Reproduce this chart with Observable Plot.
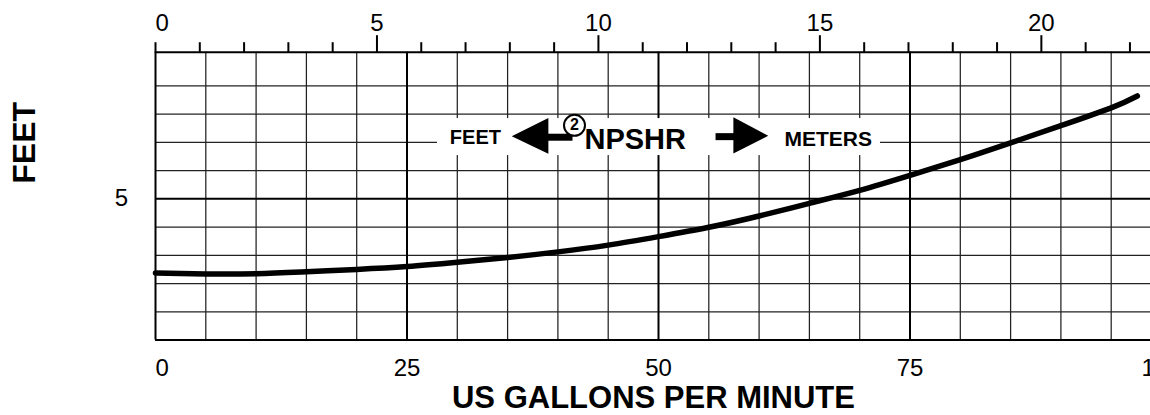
<!DOCTYPE html>
<html><head><meta charset="utf-8">
<script src="https://cdn.jsdelivr.net/npm/d3@7"></script>
<script src="https://cdn.jsdelivr.net/npm/@observablehq/plot@0.6"></script>
<style>
html,body{margin:0;padding:0;background:#fff;overflow:hidden}
#chart svg{display:block}
</style></head><body><div id="chart"></div>
<script>
// ---- data ----
const gpm       = [0, 5, 10, 15, 20, 25, 30, 35, 40, 45, 50, 55, 60, 65, 70, 75, 80, 85, 90, 95, 97.6];
const npshrFeet = [2.37, 2.34, 2.35, 2.42, 2.50, 2.60, 2.75, 2.92, 3.12, 3.36, 3.66, 3.99, 4.39, 4.84, 5.30, 5.83, 6.39, 6.98, 7.59, 8.22, 8.64];
const xTickLabels   = [0, 25, 50, 75, 100];        // US gallons per minute
const topTickLabels = [0, 5, 10, 15, 20];          // m³/h
const topMinorTicks = d3.range(1, 23).filter(v => v % 5 !== 0).concat([0]);
const yTickLabels   = [5];                          // feet
const xGrid = d3.range(5, 101, 5);
const yGrid = d3.range(1, 10);
const GPM_PER_M3H = 4.40287;
const Y_TOP = 10.19;

const curve = gpm.map((g, i) => ({g, f: npshrFeet[i]}));
const FONT = "'Liberation Sans', Arial, Helvetica, sans-serif";

const chart = Plot.plot({
  width: 1150, height: 415,
  marginLeft: 155, marginRight: 0, marginTop: 51.7, marginBottom: 75.5,
  x: {domain: [0, 100], range: [155, 1161], axis: null, label: null},
  y: {domain: [0, Y_TOP], range: [339.5, 51.7], axis: null, label: null},
  style: {fontFamily: FONT, background: "white", overflow: "hidden", color: "black"},
  marks: [
    // grid
    Plot.ruleX(xGrid.filter(d => d % 25 !== 0), {y1: 0, y2: Y_TOP, stroke: "#222", strokeWidth: 1.25}),
    Plot.ruleY(yGrid.filter(d => d % 5 !== 0), {x1: 0, x2: 101, stroke: "#222", strokeWidth: 1.25}),
    Plot.ruleX(xGrid.filter(d => d % 25 === 0), {y1: 0, y2: Y_TOP, stroke: "#000", strokeWidth: 2}),
    Plot.ruleY(yGrid.filter(d => d % 5 === 0), {x1: 0, x2: 101, stroke: "#000", strokeWidth: 2}),
    // label box
    Plot.rect([0], {x1: 28.03, x2: 72.07, y1: 6.53, y2: 7.84, fill: "white"}),
    // borders
    Plot.ruleX([0], {y1: 0, y2: Y_TOP, stroke: "#000", strokeWidth: 2}),
    Plot.ruleY([0, Y_TOP], {x1: 0, x2: 101, stroke: "#000", strokeWidth: 2}),
    // top axis (m³/h)
    Plot.axisX({anchor: "top", ticks: topTickLabels.filter(d => d > 0).map(v => v * GPM_PER_M3H), tickSize: 17.5, tickFormat: () => "", strokeWidth: 2, label: null}),
    Plot.axisX({anchor: "top", ticks: topMinorTicks.map(v => v * GPM_PER_M3H), tickSize: 10.5, tickFormat: () => "", strokeWidth: 2, label: null}),
    Plot.text(topTickLabels.filter(d => d > 0), {x: d => d * GPM_PER_M3H, text: d => String(d), frameAnchor: "top", lineAnchor: "middle", dy: -28.5, fontSize: 24}),
    Plot.text(topTickLabels.filter(d => d === 0), {x: d => d, text: d => String(d), frameAnchor: "top", lineAnchor: "middle", dy: -28.5, fontSize: 24, textAnchor: "start"}),
    // bottom axis (gpm)
    Plot.text(xTickLabels.filter(d => d > 0), {x: d => d, text: d => String(d), frameAnchor: "bottom", lineAnchor: "middle", dy: 28.5, fontSize: 24}),
    Plot.text(xTickLabels.filter(d => d === 0), {x: d => d, text: d => String(d), frameAnchor: "bottom", lineAnchor: "middle", dy: 28.5, fontSize: 24, textAnchor: "start"}),
    Plot.text(["US GALLONS PER MINUTE"], {x: 49.5, frameAnchor: "bottom", lineAnchor: "middle", dy: 58, fontSize: 31, fontWeight: "bold"}),
    // left axis (feet)
    Plot.axisY({anchor: "left", ticks: yTickLabels, tickSize: 0, tickPadding: 27.5, fontSize: 24, tickFormat: d => String(d), label: null}),
    Plot.text(["FEET"], {frameAnchor: "left", textAnchor: "middle", lineAnchor: "middle", y: 6.98, dx: -131, rotate: -90, fontSize: 32, fontWeight: "bold"}),
    // NPSHR curve
    Plot.line(curve, {x: "g", y: "f", stroke: "#000", strokeWidth: 5.5, curve: "natural"}),
    // annotation
    Plot.text(["FEET"], {x: 31.8, y: 7.18, fontSize: 20, fontWeight: "bold"}),
    Plot.areaY([{x: 35.46, y1: 7.2, y2: 7.2}, {x: 39.10, y1: 6.58, y2: 7.84}], {x: "x", y1: "y1", y2: "y2", fill: "#000"}),
    Plot.line([{x: 39.0, y: 7.18}, {x: 41.45, y: 7.18}], {x: "x", y: "y", stroke: "#000", strokeWidth: 7, strokeLinecap: "butt"}),
    Plot.dot([{x: 41.65, y: 7.60}], {x: "x", y: "y", r: 10.5, stroke: "#000", strokeWidth: 2, fill: "white"}),
    Plot.text([{x: 41.65, y: 7.60}], {x: "x", y: "y", text: () => "2", fontSize: 16, fontWeight: "bold"}),
    Plot.text(["NPSHR"], {x: 42.64, y: 7.10, fontSize: 29, fontWeight: "bold", textAnchor: "start"}),
    Plot.line([{x: 55.67, y: 7.2}, {x: 57.6, y: 7.2}], {x: "x", y: "y", stroke: "#000", strokeWidth: 7, strokeLinecap: "butt"}),
    Plot.areaY([{x: 57.49, y1: 6.59, y2: 7.87}, {x: 60.96, y1: 7.21, y2: 7.21}], {x: "x", y1: "y1", y2: "y2", fill: "#000"}),
    Plot.text(["METERS"], {x: 66.87, y: 7.12, fontSize: 21, fontWeight: "bold"})
  ]
});
document.getElementById("chart").append(chart);
</script>
</body></html>
